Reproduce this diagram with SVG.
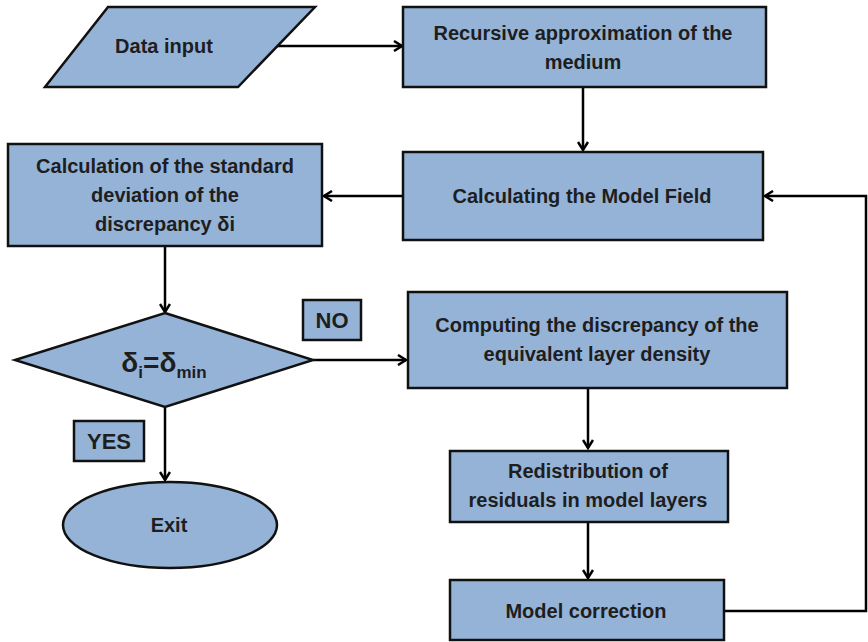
<svg xmlns="http://www.w3.org/2000/svg" width="868" height="642" viewBox="0 0 868 642">
<defs>
<marker id="ah" markerWidth="12" markerHeight="12" refX="10" refY="6" orient="auto" markerUnits="userSpaceOnUse">
<path d="M2,1 L10,6 L2,11" fill="none" stroke="#000" stroke-width="2.5"/>
</marker>
</defs>
<style>
.s{fill:#95b3d7;stroke:#111;stroke-width:2.5}
.t{font-family:"Liberation Sans",Arial,sans-serif;font-weight:bold;font-size:20px;fill:#1e1e1e;text-anchor:middle}
.c{fill:none;stroke:#000;stroke-width:2.5}
</style>
<rect width="868" height="642" fill="#fff"/>
<g id="connectors">
<path class="c" d="M277,46 L402,46" marker-end="url(#ah)"/>
<path class="c" d="M583,87 L583,150" marker-end="url(#ah)"/>
<path class="c" d="M403,196 L324,196" marker-end="url(#ah)"/>
<path class="c" d="M165,246 L165,312" marker-end="url(#ah)"/>
<path class="c" d="M313,360 L406,360" marker-end="url(#ah)"/>
<path class="c" d="M165,407 L165,480" marker-end="url(#ah)"/>
<path class="c" d="M588,388 L588,448" marker-end="url(#ah)"/>
<path class="c" d="M588,522 L588,578" marker-end="url(#ah)"/>
<path class="c" d="M724,611 L866,611 L866,196 L765,196" marker-end="url(#ah)"/>
</g>
<g id="data-input">
<polygon class="s" points="108,7 315,7 238,87 45,87"/>
<text class="t" x="164" y="53">Data input</text>
</g>
<g id="recursive">
<rect class="s" x="403" y="7" width="363" height="80"/>
<text class="t" x="583" y="40">Recursive approximation of the</text>
<text class="t" x="583" y="69">medium</text>
</g>
<g id="model-field">
<rect class="s" x="403" y="152" width="360" height="88"/>
<text class="t" x="582" y="203">Calculating the Model Field</text>
</g>
<g id="std-dev">
<rect class="s" x="8" y="144" width="314" height="102"/>
<text class="t" x="165" y="173">Calculation of the standard</text>
<text class="t" x="165" y="202">deviation of the</text>
<text class="t" x="165" y="231">discrepancy δi</text>
</g>
<g id="decision">
<polygon class="s" points="165,313 313,360 165,407 15,360"/>
<text class="t" x="164" y="372" style="font-size:28px">δ<tspan font-size="17" dy="6">i</tspan><tspan dy="-6">=δ</tspan><tspan font-size="17" dy="6">min</tspan></text>
</g>
<g id="no-label">
<rect class="s" x="303" y="300" width="58" height="40"/>
<text class="t" x="332" y="328" style="font-size:22px">NO</text>
</g>
<g id="yes-label">
<rect class="s" x="74" y="421" width="70" height="40"/>
<text class="t" x="109" y="449" style="font-size:22px">YES</text>
</g>
<g id="exit">
<ellipse class="s" cx="170" cy="525" rx="107" ry="43"/>
<text class="t" x="169" y="532">Exit</text>
</g>
<g id="computing">
<rect class="s" x="408" y="292" width="379" height="96"/>
<text class="t" x="597" y="332">Computing the discrepancy of the</text>
<text class="t" x="597" y="361">equivalent layer density</text>
</g>
<g id="redistribution">
<rect class="s" x="450" y="451" width="278" height="71"/>
<text class="t" x="588" y="478">Redistribution of</text>
<text class="t" x="588" y="507">residuals in model layers</text>
</g>
<g id="model-correction">
<rect class="s" x="450" y="580" width="274" height="60"/>
<text class="t" x="586" y="618">Model correction</text>
</g>
</svg>
